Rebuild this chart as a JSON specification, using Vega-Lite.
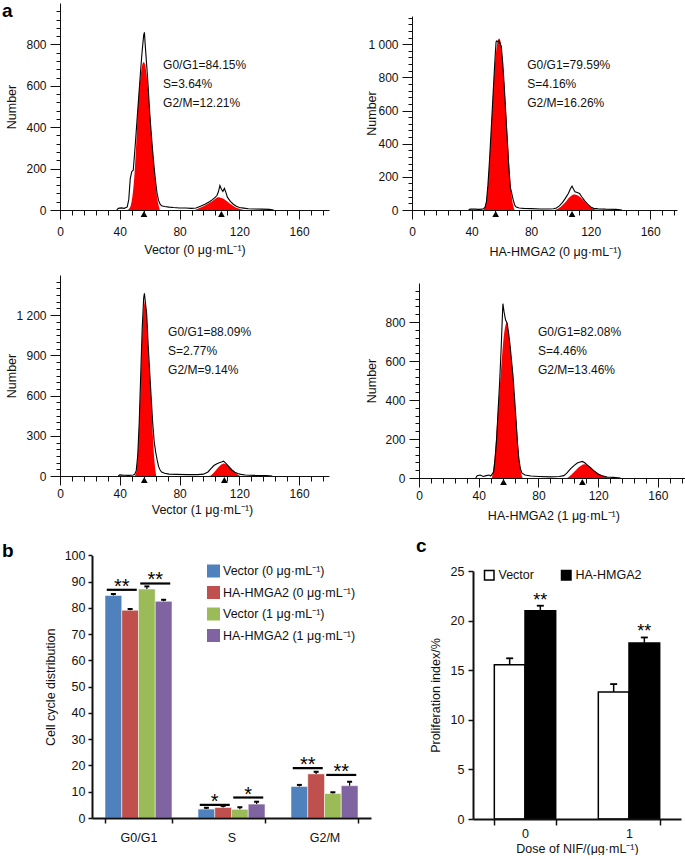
{
"$schema": "https://vega.github.io/schema/vega-lite/v6.json",
"padding": {"left": 2, "top": 1, "right": 0, "bottom": 0},
"background": "white",
"columns": 2,
"spacing": {"row": 65, "column": 41},
"bounds": "flush",
"align": "each",
"resolve": {"scale": {"color": "independent"}, "legend": {"color": "independent"}},
"datasets": {
"hist": [
{"p":"a1","x":38,"y":0},{"p":"a1","x":39,"y":8},{"p":"a1","x":41,"y":10},{"p":"a1","x":43,"y":8},{"p":"a1","x":45,"y":15},{"p":"a1","x":46,"y":50},{"p":"a1","x":47,"y":150},{"p":"a1","x":48,"y":185},{"p":"a1","x":49,"y":192},{"p":"a1","x":50,"y":280},{"p":"a1","x":51,"y":380},{"p":"a1","x":52,"y":480},{"p":"a1","x":53,"y":580},{"p":"a1","x":54,"y":680},{"p":"a1","x":55,"y":770},{"p":"a1","x":56,"y":845},{"p":"a1","x":56.5,"y":858},{"p":"a1","x":57,"y":800},{"p":"a1","x":58,"y":700},{"p":"a1","x":59,"y":595},{"p":"a1","x":60,"y":475},{"p":"a1","x":61,"y":375},{"p":"a1","x":62,"y":285},{"p":"a1","x":63,"y":205},{"p":"a1","x":64,"y":135},{"p":"a1","x":65,"y":78},{"p":"a1","x":66,"y":45},{"p":"a1","x":67,"y":28},{"p":"a1","x":68,"y":20},{"p":"a1","x":70,"y":17},{"p":"a1","x":73,"y":14},{"p":"a1","x":76,"y":12},{"p":"a1","x":80,"y":10},{"p":"a1","x":84,"y":10},{"p":"a1","x":88,"y":8},{"p":"a1","x":91,"y":10},{"p":"a1","x":94,"y":18},{"p":"a1","x":97,"y":28},{"p":"a1","x":100,"y":40},{"p":"a1","x":102,"y":50},{"p":"a1","x":104,"y":62},{"p":"a1","x":105,"y":70},{"p":"a1","x":106,"y":88},{"p":"a1","x":107,"y":118},{"p":"a1","x":108,"y":100},{"p":"a1","x":109,"y":90},{"p":"a1","x":110,"y":104},{"p":"a1","x":111,"y":85},{"p":"a1","x":112,"y":62},{"p":"a1","x":114,"y":42},{"p":"a1","x":116,"y":28},{"p":"a1","x":118,"y":18},{"p":"a1","x":120,"y":12},{"p":"a1","x":123,"y":9},{"p":"a1","x":126,"y":6},{"p":"a1","x":130,"y":5},{"p":"a1","x":135,"y":4},{"p":"a1","x":140,"y":3},{"p":"a1","x":143,"y":0},
{"p":"a2","x":38,"y":0},{"p":"a2","x":39,"y":5},{"p":"a2","x":42,"y":5},{"p":"a2","x":45,"y":4},{"p":"a2","x":47,"y":5},{"p":"a2","x":48,"y":8},{"p":"a2","x":49,"y":15},{"p":"a2","x":50,"y":50},{"p":"a2","x":51,"y":150},{"p":"a2","x":52,"y":290},{"p":"a2","x":53,"y":450},{"p":"a2","x":54,"y":620},{"p":"a2","x":55,"y":790},{"p":"a2","x":56,"y":950},{"p":"a2","x":56.5,"y":1015},{"p":"a2","x":57,"y":1020},{"p":"a2","x":58,"y":1012},{"p":"a2","x":58.5,"y":1020},{"p":"a2","x":59,"y":1010},{"p":"a2","x":60,"y":985},{"p":"a2","x":61,"y":880},{"p":"a2","x":62,"y":740},{"p":"a2","x":63,"y":580},{"p":"a2","x":64,"y":420},{"p":"a2","x":65,"y":260},{"p":"a2","x":66,"y":140},{"p":"a2","x":67,"y":100},{"p":"a2","x":68,"y":60},{"p":"a2","x":69,"y":30},{"p":"a2","x":70,"y":18},{"p":"a2","x":72,"y":12},{"p":"a2","x":75,"y":10},{"p":"a2","x":80,"y":8},{"p":"a2","x":86,"y":6},{"p":"a2","x":92,"y":6},{"p":"a2","x":95,"y":8},{"p":"a2","x":97,"y":12},{"p":"a2","x":99,"y":25},{"p":"a2","x":101,"y":45},{"p":"a2","x":103,"y":70},{"p":"a2","x":105,"y":100},{"p":"a2","x":106.5,"y":130},{"p":"a2","x":107.5,"y":144},{"p":"a2","x":108.5,"y":125},{"p":"a2","x":109.5,"y":110},{"p":"a2","x":111,"y":105},{"p":"a2","x":112.5,"y":100},{"p":"a2","x":114,"y":80},{"p":"a2","x":116,"y":55},{"p":"a2","x":118,"y":35},{"p":"a2","x":120,"y":18},{"p":"a2","x":122,"y":10},{"p":"a2","x":125,"y":7},{"p":"a2","x":130,"y":5},{"p":"a2","x":137,"y":4},{"p":"a2","x":141,"y":0},
{"p":"a3","x":39,"y":0},{"p":"a3","x":40,"y":8},{"p":"a3","x":43,"y":6},{"p":"a3","x":46,"y":5},{"p":"a3","x":49,"y":8},{"p":"a3","x":50,"y":12},{"p":"a3","x":51,"y":40},{"p":"a3","x":52,"y":150},{"p":"a3","x":53,"y":400},{"p":"a3","x":54,"y":750},{"p":"a3","x":55,"y":1100},{"p":"a3","x":56,"y":1330},{"p":"a3","x":56.5,"y":1363},{"p":"a3","x":57,"y":1310},{"p":"a3","x":58,"y":1210},{"p":"a3","x":59,"y":980},{"p":"a3","x":60,"y":780},{"p":"a3","x":61,"y":590},{"p":"a3","x":62,"y":400},{"p":"a3","x":63,"y":260},{"p":"a3","x":64,"y":180},{"p":"a3","x":65,"y":120},{"p":"a3","x":66,"y":70},{"p":"a3","x":67,"y":45},{"p":"a3","x":68,"y":30},{"p":"a3","x":70,"y":20},{"p":"a3","x":73,"y":14},{"p":"a3","x":78,"y":12},{"p":"a3","x":85,"y":10},{"p":"a3","x":92,"y":10},{"p":"a3","x":96,"y":14},{"p":"a3","x":99,"y":30},{"p":"a3","x":101,"y":55},{"p":"a3","x":103,"y":78},{"p":"a3","x":105,"y":92},{"p":"a3","x":107,"y":100},{"p":"a3","x":108.5,"y":106},{"p":"a3","x":109.5,"y":111},{"p":"a3","x":111,"y":95},{"p":"a3","x":113,"y":70},{"p":"a3","x":115,"y":45},{"p":"a3","x":117,"y":28},{"p":"a3","x":119,"y":18},{"p":"a3","x":121,"y":12},{"p":"a3","x":124,"y":8},{"p":"a3","x":130,"y":5},{"p":"a3","x":138,"y":4},{"p":"a3","x":142,"y":0},
{"p":"a4","x":38,"y":0},{"p":"a4","x":39,"y":12},{"p":"a4","x":41,"y":15},{"p":"a4","x":43,"y":8},{"p":"a4","x":45,"y":12},{"p":"a4","x":47,"y":15},{"p":"a4","x":48,"y":10},{"p":"a4","x":49,"y":20},{"p":"a4","x":50,"y":30},{"p":"a4","x":51,"y":100},{"p":"a4","x":52,"y":200},{"p":"a4","x":53,"y":350},{"p":"a4","x":54,"y":490},{"p":"a4","x":55,"y":660},{"p":"a4","x":56,"y":860},{"p":"a4","x":56.2,"y":894},{"p":"a4","x":57,"y":850},{"p":"a4","x":58,"y":810},{"p":"a4","x":59,"y":795},{"p":"a4","x":60,"y":745},{"p":"a4","x":61,"y":680},{"p":"a4","x":62,"y":600},{"p":"a4","x":63,"y":520},{"p":"a4","x":64,"y":410},{"p":"a4","x":65,"y":300},{"p":"a4","x":66,"y":170},{"p":"a4","x":67,"y":90},{"p":"a4","x":68,"y":45},{"p":"a4","x":69,"y":25},{"p":"a4","x":71,"y":15},{"p":"a4","x":75,"y":10},{"p":"a4","x":80,"y":8},{"p":"a4","x":88,"y":6},{"p":"a4","x":94,"y":8},{"p":"a4","x":97,"y":12},{"p":"a4","x":99,"y":25},{"p":"a4","x":101.6,"y":48},{"p":"a4","x":104,"y":65},{"p":"a4","x":106,"y":77},{"p":"a4","x":108,"y":82},{"p":"a4","x":109.4,"y":85},{"p":"a4","x":111,"y":78},{"p":"a4","x":113,"y":65},{"p":"a4","x":115,"y":52},{"p":"a4","x":117,"y":38},{"p":"a4","x":119.6,"y":22},{"p":"a4","x":122,"y":13},{"p":"a4","x":126,"y":5},{"p":"a4","x":130,"y":3},{"p":"a4","x":135,"y":0}
],
"fit": [
{"p":"a1","k":"G1","x":45,"y":0},{"p":"a1","k":"G1","x":47,"y":15},{"p":"a1","k":"G1","x":48,"y":45},{"p":"a1","k":"G1","x":49,"y":100},{"p":"a1","k":"G1","x":50,"y":190},{"p":"a1","k":"G1","x":51,"y":320},{"p":"a1","k":"G1","x":52,"y":470},{"p":"a1","k":"G1","x":53,"y":580},{"p":"a1","k":"G1","x":54,"y":650},{"p":"a1","k":"G1","x":55,"y":700},{"p":"a1","k":"G1","x":56,"y":715},{"p":"a1","k":"G1","x":57,"y":700},{"p":"a1","k":"G1","x":58,"y":650},{"p":"a1","k":"G1","x":59,"y":575},{"p":"a1","k":"G1","x":60,"y":480},{"p":"a1","k":"G1","x":61,"y":380},{"p":"a1","k":"G1","x":62,"y":285},{"p":"a1","k":"G1","x":63,"y":195},{"p":"a1","k":"G1","x":64,"y":120},{"p":"a1","k":"G1","x":65,"y":60},{"p":"a1","k":"G1","x":66,"y":22},{"p":"a1","k":"G1","x":67,"y":0},
{"p":"a1","k":"G2","x":90,"y":0},{"p":"a1","k":"G2","x":93,"y":8},{"p":"a1","k":"G2","x":96,"y":18},{"p":"a1","k":"G2","x":99,"y":30},{"p":"a1","k":"G2","x":102,"y":44},{"p":"a1","k":"G2","x":104,"y":54},{"p":"a1","k":"G2","x":105,"y":59},{"p":"a1","k":"G2","x":106,"y":61},{"p":"a1","k":"G2","x":107,"y":60},{"p":"a1","k":"G2","x":109,"y":55},{"p":"a1","k":"G2","x":111,"y":46},{"p":"a1","k":"G2","x":113,"y":35},{"p":"a1","k":"G2","x":115,"y":24},{"p":"a1","k":"G2","x":117,"y":15},{"p":"a1","k":"G2","x":119,"y":9},{"p":"a1","k":"G2","x":121,"y":4},{"p":"a1","k":"G2","x":123.5,"y":0},
{"p":"a2","k":"G1","x":48,"y":0},{"p":"a2","k":"G1","x":49,"y":20},{"p":"a2","k":"G1","x":50,"y":60},{"p":"a2","k":"G1","x":51,"y":150},{"p":"a2","k":"G1","x":52,"y":290},{"p":"a2","k":"G1","x":53,"y":450},{"p":"a2","k":"G1","x":54,"y":620},{"p":"a2","k":"G1","x":55,"y":780},{"p":"a2","k":"G1","x":56,"y":910},{"p":"a2","k":"G1","x":57,"y":990},{"p":"a2","k":"G1","x":58,"y":1030},{"p":"a2","k":"G1","x":58.5,"y":1034},{"p":"a2","k":"G1","x":59,"y":1030},{"p":"a2","k":"G1","x":60,"y":985},{"p":"a2","k":"G1","x":61,"y":880},{"p":"a2","k":"G1","x":62,"y":760},{"p":"a2","k":"G1","x":63,"y":620},{"p":"a2","k":"G1","x":64,"y":470},{"p":"a2","k":"G1","x":65,"y":320},{"p":"a2","k":"G1","x":66,"y":180},{"p":"a2","k":"G1","x":67,"y":80},{"p":"a2","k":"G1","x":68,"y":25},{"p":"a2","k":"G1","x":69,"y":0},
{"p":"a2","k":"G2","x":95,"y":0},{"p":"a2","k":"G2","x":98,"y":8},{"p":"a2","k":"G2","x":100,"y":20},{"p":"a2","k":"G2","x":102,"y":38},{"p":"a2","k":"G2","x":104,"y":58},{"p":"a2","k":"G2","x":106,"y":78},{"p":"a2","k":"G2","x":108,"y":92},{"p":"a2","k":"G2","x":109,"y":94},{"p":"a2","k":"G2","x":110,"y":92},{"p":"a2","k":"G2","x":112,"y":85},{"p":"a2","k":"G2","x":114,"y":70},{"p":"a2","k":"G2","x":116,"y":50},{"p":"a2","k":"G2","x":118,"y":30},{"p":"a2","k":"G2","x":120,"y":15},{"p":"a2","k":"G2","x":122,"y":6},{"p":"a2","k":"G2","x":124,"y":0},
{"p":"a3","k":"G1","x":50,"y":0},{"p":"a3","k":"G1","x":51,"y":30},{"p":"a3","k":"G1","x":52,"y":150},{"p":"a3","k":"G1","x":53,"y":380},{"p":"a3","k":"G1","x":54,"y":700},{"p":"a3","k":"G1","x":55,"y":1050},{"p":"a3","k":"G1","x":56,"y":1250},{"p":"a3","k":"G1","x":57,"y":1306},{"p":"a3","k":"G1","x":58,"y":1200},{"p":"a3","k":"G1","x":59,"y":950},{"p":"a3","k":"G1","x":60,"y":750},{"p":"a3","k":"G1","x":61,"y":560},{"p":"a3","k":"G1","x":62,"y":330},{"p":"a3","k":"G1","x":63,"y":140},{"p":"a3","k":"G1","x":64,"y":30},{"p":"a3","k":"G1","x":64.5,"y":0},
{"p":"a3","k":"G2","x":100,"y":0},{"p":"a3","k":"G2","x":102,"y":15},{"p":"a3","k":"G2","x":104,"y":40},{"p":"a3","k":"G2","x":106,"y":65},{"p":"a3","k":"G2","x":108,"y":85},{"p":"a3","k":"G2","x":109.5,"y":94},{"p":"a3","k":"G2","x":111,"y":88},{"p":"a3","k":"G2","x":113,"y":72},{"p":"a3","k":"G2","x":115,"y":50},{"p":"a3","k":"G2","x":117,"y":30},{"p":"a3","k":"G2","x":119,"y":12},{"p":"a3","k":"G2","x":120.5,"y":0},
{"p":"a4","k":"G1","x":48.8,"y":0},{"p":"a4","k":"G1","x":50,"y":60},{"p":"a4","k":"G1","x":51,"y":140},{"p":"a4","k":"G1","x":52,"y":250},{"p":"a4","k":"G1","x":53.7,"y":424},{"p":"a4","k":"G1","x":55,"y":560},{"p":"a4","k":"G1","x":56.2,"y":680},{"p":"a4","k":"G1","x":57,"y":740},{"p":"a4","k":"G1","x":58,"y":785},{"p":"a4","k":"G1","x":58.9,"y":797},{"p":"a4","k":"G1","x":60,"y":740},{"p":"a4","k":"G1","x":61,"y":675},{"p":"a4","k":"G1","x":62.2,"y":590},{"p":"a4","k":"G1","x":63,"y":510},{"p":"a4","k":"G1","x":64,"y":400},{"p":"a4","k":"G1","x":65,"y":300},{"p":"a4","k":"G1","x":65.6,"y":250},{"p":"a4","k":"G1","x":66.5,"y":160},{"p":"a4","k":"G1","x":67.5,"y":70},{"p":"a4","k":"G1","x":68.3,"y":30},{"p":"a4","k":"G1","x":69.7,"y":0},
{"p":"a4","k":"G2","x":99,"y":0},{"p":"a4","k":"G2","x":101,"y":10},{"p":"a4","k":"G2","x":103,"y":25},{"p":"a4","k":"G2","x":105,"y":40},{"p":"a4","k":"G2","x":107,"y":55},{"p":"a4","k":"G2","x":109,"y":66},{"p":"a4","k":"G2","x":110.6,"y":70},{"p":"a4","k":"G2","x":112,"y":68},{"p":"a4","k":"G2","x":114,"y":60},{"p":"a4","k":"G2","x":116,"y":48},{"p":"a4","k":"G2","x":118,"y":35},{"p":"a4","k":"G2","x":120,"y":25},{"p":"a4","k":"G2","x":122,"y":16},{"p":"a4","k":"G2","x":124,"y":9},{"p":"a4","k":"G2","x":126,"y":4},{"p":"a4","k":"G2","x":128.5,"y":0}
],
"tri": [
{"p":"a1","x":56.2},{"p":"a1","x":108},
{"p":"a2","x":56.2},{"p":"a2","x":107.5},
{"p":"a3","x":56.4},{"p":"a3","x":110},
{"p":"a4","x":56.6},{"p":"a4","x":109.4}
],
"ann": [
{"p":"a1","t":"G0/G1=84.15%\nS=3.64%\nG2/M=12.21%"},
{"p":"a2","t":"G0/G1=79.59%\nS=4.16%\nG2/M=16.26%"},
{"p":"a3","t":"G0/G1=88.09%\nS=2.77%\nG2/M=9.14%"},
{"p":"a4","t":"G0/G1=82.08%\nS=4.46%\nG2/M=13.46%"}
],
"cycle": [
{"phase":"G0/G1","grp":"Vector (0 μg·mL⁻¹)","v":84.7,"hi":85.3},
{"phase":"G0/G1","grp":"HA-HMGA2 (0 μg·mL⁻¹)","v":79.1,"hi":79.6},
{"phase":"G0/G1","grp":"Vector (1 μg·mL⁻¹)","v":87.2,"hi":88.2},
{"phase":"G0/G1","grp":"HA-HMGA2 (1 μg·mL⁻¹)","v":82.5,"hi":83.1},
{"phase":"S","grp":"Vector (0 μg·mL⁻¹)","v":3.4,"hi":3.9},
{"phase":"S","grp":"HA-HMGA2 (0 μg·mL⁻¹)","v":4.0,"hi":4.6},
{"phase":"S","grp":"Vector (1 μg·mL⁻¹)","v":3.3,"hi":4.1},
{"phase":"S","grp":"HA-HMGA2 (1 μg·mL⁻¹)","v":5.3,"hi":6.2},
{"phase":"G2/M","grp":"Vector (0 μg·mL⁻¹)","v":12.0,"hi":12.6},
{"phase":"G2/M","grp":"HA-HMGA2 (0 μg·mL⁻¹)","v":16.8,"hi":17.6},
{"phase":"G2/M","grp":"Vector (1 μg·mL⁻¹)","v":9.3,"hi":9.8},
{"phase":"G2/M","grp":"HA-HMGA2 (1 μg·mL⁻¹)","v":12.3,"hi":13.8}
],
"sig": [
{"phase":"G0/G1","pair":"p1","y":86.9,"stars":"**"},
{"phase":"G0/G1","pair":"p2","y":89.3,"stars":"**"},
{"phase":"S","pair":"p1","y":5.0,"stars":"*"},
{"phase":"S","pair":"p2","y":7.8,"stars":"*"},
{"phase":"G2/M","pair":"p1","y":19.0,"stars":"**"},
{"phase":"G2/M","pair":"p2","y":16.4,"stars":"**"}
],
"prolif": [
{"dose":"0","grp":"Vector","v":15.55,"hi":16.2,"sig":""},
{"dose":"0","grp":"HA-HMGA2","v":21.0,"hi":21.5,"sig":"**"},
{"dose":"1","grp":"Vector","v":12.8,"hi":13.6,"sig":""},
{"dose":"1","grp":"HA-HMGA2","v":17.75,"hi":18.3,"sig":"**"}
]
},
"concat": [
{
"width": 269, "height": 207,
"title": {"text": "a", "anchor": "start", "frame": "group", "orient": "top", "fontSize": 19, "fontWeight": "bold", "font": "Liberation Sans", "color": "black", "offset": 0, "dx": -58, "dy": 32.5, "baseline": "alphabetic"},
"resolve": {"axis": {"x": "independent", "y": "independent"}},
"layer": [
{"data": {"name": "fit"}, "transform": [{"filter": "datum.p == 'a1'"}],
 "mark": {"type": "area", "color": "#ff0000", "interpolate": "monotone"},
 "encoding": {
  "x": {"field": "x", "type": "quantitative", "scale": {"domain": [0, 180], "nice": false},
   "axis": {"orient": "bottom", "values": [0,40,80,120,160], "tickSize": 9, "labelPadding": 7, "labelFlush": false, "title": "Vector (0 μg·mL⁻¹)", "titlePadding": 6, "zindex": 1}},
  "y": {"field": "y", "type": "quantitative", "scale": {"domain": [0, 1000], "nice": false},
   "axis": {"orient": "left", "values": [0,200,400,600,800], "labelExpr": "replace(format(datum.value, ','), ',', ' ')", "tickSize": 10, "labelPadding": 4, "labelFlush": false, "title": "Number", "titleX": -45, "titleBaseline": "alphabetic", "zindex": 1}},
  "detail": {"field": "k", "type": "nominal"}}},
{"data": {"name": "hist"}, "transform": [{"filter": "datum.p == 'a1'"}], "mark": {"type": "line", "color": "black", "strokeWidth": 1.1},
 "encoding": {
  "x": {"field": "x", "type": "quantitative", "axis": {"orient": "bottom", "values": [0,8,16,24,32,40,48,56,64,72,80,88,96,104,112,120,128,136,144,152,160,168,176], "tickSize": 5, "labels": false, "domain": false, "title": null, "zindex": 1}},
  "y": {"field": "y", "type": "quantitative", "axis": {"orient": "left", "values": [0,40,80,120,160,200,240,280,320,360,400,440,480,520,560,600,640,680,720,760,800,840,880,920,960], "tickSize": 4, "labels": false, "domain": false, "title": null, "zindex": 1}}}},
{"data": {"name": "tri"}, "transform": [{"filter": "datum.p == 'a1'"}], "mark": {"type": "point", "shape": "triangle-up", "filled": true, "color": "black", "opacity": 1, "size": 45, "yOffset": 4}, "encoding": {"x": {"field": "x", "type": "quantitative", "axis": null}, "y": {"datum": 0, "axis": null}}},
{"data": {"name": "ann"}, "transform": [{"filter": "datum.p == 'a1'"}], "mark": {"type": "text", "align": "left", "baseline": "top", "lineBreak": "\n", "lineHeight": 19, "fontSize": 12, "color": "#111"}, "encoding": {"x": {"datum": 69, "axis": null}, "y": {"datum": 723, "axis": null}, "text": {"field": "t"}}}
]
},
{
"width": 265, "height": 207,
"resolve": {"axis": {"x": "independent", "y": "independent"}},
"layer": [
{"data": {"name": "fit"}, "transform": [{"filter": "datum.p == 'a2'"}],
 "mark": {"type": "area", "color": "#ff0000", "interpolate": "monotone"},
 "encoding": {
  "x": {"field": "x", "type": "quantitative", "scale": {"domain": [0, 178], "nice": false},
   "axis": {"orient": "bottom", "values": [0,40,80,120,160], "tickSize": 9, "labelPadding": 7, "labelFlush": false, "title": "HA-HMGA2 (0 μg·mL⁻¹)", "titlePadding": 8, "titleX": 143, "zindex": 1}},
  "y": {"field": "y", "type": "quantitative", "scale": {"domain": [0, 1170], "nice": false, "range": [207, 13]},
   "axis": {"orient": "left", "values": [0,200,400,600,800,1000], "labelExpr": "replace(format(datum.value, ','), ',', ' ')", "tickSize": 10, "labelPadding": 4, "labelFlush": false, "title": "Number", "titleX": -37, "titleBaseline": "alphabetic", "zindex": 1}},
  "detail": {"field": "k", "type": "nominal"}}},
{"data": {"name": "hist"}, "transform": [{"filter": "datum.p == 'a2'"}], "mark": {"type": "line", "color": "black", "strokeWidth": 1.1},
 "encoding": {
  "x": {"field": "x", "type": "quantitative", "axis": {"orient": "bottom", "values": [0,8,16,24,32,40,48,56,64,72,80,88,96,104,112,120,128,136,144,152,160,168,176], "tickSize": 5, "labels": false, "domain": false, "title": null, "zindex": 1}},
  "y": {"field": "y", "type": "quantitative", "axis": {"orient": "left", "values": [0,40,80,120,160,200,240,280,320,360,400,440,480,520,560,600,640,680,720,760,800,840,880,920,960,1000,1040,1080,1120,1160], "tickSize": 4, "labels": false, "domain": false, "title": null, "zindex": 1}}}},
{"data": {"name": "tri"}, "transform": [{"filter": "datum.p == 'a2'"}], "mark": {"type": "point", "shape": "triangle-up", "filled": true, "color": "black", "opacity": 1, "size": 45, "yOffset": 4}, "encoding": {"x": {"field": "x", "type": "quantitative", "axis": null}, "y": {"datum": 0, "axis": null}}},
{"data": {"name": "ann"}, "transform": [{"filter": "datum.p == 'a2'"}], "mark": {"type": "text", "align": "left", "baseline": "top", "lineBreak": "\n", "lineHeight": 19, "fontSize": 12, "color": "#111"}, "encoding": {"x": {"datum": 77.4, "axis": null}, "y": {"datum": 902, "axis": null}, "text": {"field": "t"}}}
]
},
{
"width": 269, "height": 201,
"resolve": {"axis": {"x": "independent", "y": "independent"}},
"layer": [
{"data": {"name": "fit"}, "transform": [{"filter": "datum.p == 'a3'"}],
 "mark": {"type": "area", "color": "#ff0000", "interpolate": "monotone"},
 "encoding": {
  "x": {"field": "x", "type": "quantitative", "scale": {"domain": [0, 180], "nice": false},
   "axis": {"orient": "bottom", "values": [0,40,80,120,160], "tickSize": 9, "labelPadding": 3, "labelFlush": false, "title": "Vector (1 μg·mL⁻¹)", "titlePadding": 4, "titleX": 142, "zindex": 1}},
  "y": {"field": "y", "type": "quantitative", "scale": {"domain": [0, 1500], "nice": false},
   "axis": {"orient": "left", "values": [0,300,600,900,1200], "labelExpr": "replace(format(datum.value, ','), ',', ' ')", "tickSize": 10, "labelPadding": 4, "labelFlush": false, "title": "Number", "titleX": -45, "titleBaseline": "alphabetic", "zindex": 1}},
  "detail": {"field": "k", "type": "nominal"}}},
{"data": {"name": "hist"}, "transform": [{"filter": "datum.p == 'a3'"}], "mark": {"type": "line", "color": "black", "strokeWidth": 1.1},
 "encoding": {
  "x": {"field": "x", "type": "quantitative", "axis": {"orient": "bottom", "values": [0,8,16,24,32,40,48,56,64,72,80,88,96,104,112,120,128,136,144,152,160,168,176], "tickSize": 5, "labels": false, "domain": false, "title": null, "zindex": 1}},
  "y": {"field": "y", "type": "quantitative", "axis": {"orient": "left", "values": [0,50,100,150,200,250,300,350,400,450,500,550,600,650,700,750,800,850,900,950,1000,1050,1100,1150,1200,1250,1300,1350,1400,1450], "tickSize": 4, "labels": false, "domain": false, "title": null, "zindex": 1}}}},
{"data": {"name": "tri"}, "transform": [{"filter": "datum.p == 'a3'"}], "mark": {"type": "point", "shape": "triangle-up", "filled": true, "color": "black", "opacity": 1, "size": 45, "yOffset": 4}, "encoding": {"x": {"field": "x", "type": "quantitative", "axis": null}, "y": {"datum": 0, "axis": null}}},
{"data": {"name": "ann"}, "transform": [{"filter": "datum.p == 'a3'"}], "mark": {"type": "text", "align": "left", "baseline": "top", "lineBreak": "\n", "lineHeight": 19, "fontSize": 12, "color": "#111"}, "encoding": {"x": {"datum": 72.3, "axis": null}, "y": {"datum": 1110, "axis": null}, "text": {"field": "t"}}}
]
},
{
"width": 276, "height": 203,
"resolve": {"axis": {"x": "independent", "y": "independent"}},
"layer": [
{"data": {"name": "fit"}, "transform": [{"filter": "datum.p == 'a4'"}],
 "mark": {"type": "area", "color": "#ff0000", "interpolate": "monotone"},
 "encoding": {
  "x": {"field": "x", "type": "quantitative", "scale": {"domain": [0, 180], "nice": false, "range": [7, 275.75]},
   "axis": {"orient": "bottom", "values": [0,40,80,120,160], "tickSize": 9, "labelPadding": 3, "labelFlush": false, "title": "HA-HMGA2 (1 μg·mL⁻¹)", "titlePadding": 8, "zindex": 1}},
  "y": {"field": "y", "type": "quantitative", "scale": {"domain": [0, 1000], "nice": false, "range": [203, 8]},
   "axis": {"orient": "left", "values": [0,200,400,600,800], "labelExpr": "replace(format(datum.value, ','), ',', ' ')", "tickSize": 10, "labelPadding": 4, "labelFlush": false, "offset": -7, "title": "Number", "titleX": -44, "titleBaseline": "alphabetic", "zindex": 1}},
  "detail": {"field": "k", "type": "nominal"}}},
{"data": {"name": "hist"}, "transform": [{"filter": "datum.p == 'a4'"}], "mark": {"type": "line", "color": "black", "strokeWidth": 1.1},
 "encoding": {
  "x": {"field": "x", "type": "quantitative", "axis": {"orient": "bottom", "values": [0,8,16,24,32,40,48,56,64,72,80,88,96,104,112,120,128,136,144,152,160,168,176], "tickSize": 5, "labels": false, "domain": false, "title": null, "zindex": 1}},
  "y": {"field": "y", "type": "quantitative", "axis": {"orient": "left", "values": [0,40,80,120,160,200,240,280,320,360,400,440,480,520,560,600,640,680,720,760,800,840,880,920,960], "tickSize": 4, "labels": false, "domain": false, "offset": -7, "title": null, "zindex": 1}}}},
{"data": {"name": "tri"}, "transform": [{"filter": "datum.p == 'a4'"}], "mark": {"type": "point", "shape": "triangle-up", "filled": true, "color": "black", "opacity": 1, "size": 45, "yOffset": 4}, "encoding": {"x": {"field": "x", "type": "quantitative", "axis": null}, "y": {"datum": 0, "axis": null}}},
{"data": {"name": "ann"}, "transform": [{"filter": "datum.p == 'a4'"}], "mark": {"type": "text", "align": "left", "baseline": "top", "lineBreak": "\n", "lineHeight": 19, "fontSize": 12, "color": "#111"}, "encoding": {"x": {"datum": 79.7, "axis": null}, "y": {"datum": 776, "axis": null}, "text": {"field": "t"}}}
]
},
{
"width": 311, "height": 275,
"title": {"text": "b", "anchor": "start", "frame": "group", "orient": "top", "fontSize": 19, "fontWeight": "bold", "font": "Liberation Sans", "color": "black", "offset": 0, "dx": -58, "dy": 32.5, "baseline": "alphabetic"},
"data": {"name": "cycle"},
"encoding": {
 "x": {"field": "phase", "type": "nominal", "sort": ["G0/G1", "S", "G2/M"], "scale": {"type": "band", "range": [32, 311], "paddingInner": 0.28, "paddingOuter": 0.14},
  "axis": {"title": null, "tickBand": "extent", "tickSize": 5, "tickWidth": 1.5, "domainWidth": 2, "labelPadding": 8, "labelAngle": 0, "labelFontSize": 12.5, "zindex": 1}}
},
"layer": [
{"mark": {"type": "bar", "stroke": "white", "strokeWidth": 0.5},
 "encoding": {
  "xOffset": {"field": "grp", "type": "nominal", "sort": ["Vector (0 μg·mL⁻¹)", "HA-HMGA2 (0 μg·mL⁻¹)", "Vector (1 μg·mL⁻¹)", "HA-HMGA2 (1 μg·mL⁻¹)"]},
  "y": {"field": "v", "type": "quantitative", "scale": {"domain": [0, 100], "nice": false, "range": [275, 12.4]},
   "axis": {"values": [0,10,20,30,40,50,60,70,80,90,100], "labelOverlap": false, "tickSize": 4, "tickWidth": 1.5, "domainWidth": 2, "labelPadding": 3, "labelFontSize": 12.5, "offset": -32, "title": "Cell cycle distribution", "titleX": -38, "titleBaseline": "alphabetic", "zindex": 1}},
  "color": {"field": "grp", "type": "nominal", "scale": {"domain": ["Vector (0 μg·mL⁻¹)", "HA-HMGA2 (0 μg·mL⁻¹)", "Vector (1 μg·mL⁻¹)", "HA-HMGA2 (1 μg·mL⁻¹)"], "range": ["#4F81BD", "#C0504D", "#9BBB59", "#8064A2"]},
   "legend": {"orient": "none", "legendX": 147, "legendY": 21.5, "title": null, "symbolType": "square", "symbolSize": 169, "symbolStrokeWidth": 0, "labelFontSize": 12.5, "rowPadding": 8.5, "labelOffset": 3}}}},
{"mark": {"type": "rule", "color": "black", "strokeWidth": 1.2},
 "encoding": {"xOffset": {"field": "grp", "type": "nominal", "sort": ["Vector (0 μg·mL⁻¹)", "HA-HMGA2 (0 μg·mL⁻¹)", "Vector (1 μg·mL⁻¹)", "HA-HMGA2 (1 μg·mL⁻¹)"]}, "y": {"field": "v", "type": "quantitative", "axis": null}, "y2": {"field": "hi"}}},
{"mark": {"type": "tick", "color": "black", "thickness": 2, "size": 5, "opacity": 1},
 "encoding": {"xOffset": {"field": "grp", "type": "nominal", "sort": ["Vector (0 μg·mL⁻¹)", "HA-HMGA2 (0 μg·mL⁻¹)", "Vector (1 μg·mL⁻¹)", "HA-HMGA2 (1 μg·mL⁻¹)"]}, "y": {"field": "hi", "type": "quantitative", "axis": null}}},
{"data": {"name": "sig"}, "mark": {"type": "tick", "color": "black", "thickness": 2.2, "size": 30, "opacity": 1},
 "encoding": {"xOffset": {"field": "pair", "type": "nominal"}, "y": {"field": "y", "type": "quantitative", "axis": null}}},
{"data": {"name": "sig"}, "mark": {"type": "text", "fontSize": 20, "baseline": "alphabetic", "dy": 3, "color": "black"},
 "encoding": {"xOffset": {"field": "pair", "type": "nominal"}, "y": {"field": "y", "type": "quantitative", "axis": null}, "text": {"field": "stars"}}}
],
"resolve": {"scale": {"xOffset": "independent"}, "axis": {"y": "independent"}}
},
{
"width": 269, "height": 276,
"title": {"text": "c", "anchor": "start", "frame": "group", "orient": "top", "fontSize": 19, "fontWeight": "bold", "font": "Liberation Sans", "color": "black", "offset": 0, "dx": 4, "dy": 27.5, "baseline": "alphabetic"},
"data": {"name": "prolif"},
"encoding": {
 "x": {"field": "dose", "type": "nominal", "scale": {"type": "band", "range": [61, 269], "paddingInner": 0.41, "paddingOuter": 0.205},
  "axis": {"title": "Dose of NIF/(μg·mL⁻¹)", "titlePadding": 3, "tickBand": "extent", "tickSize": 6, "tickWidth": 1.5, "domainWidth": 2, "labelPadding": 2, "labelAngle": 0, "labelFontSize": 12.5, "zindex": 1}}
},
"layer": [
{"mark": {"type": "bar", "stroke": "black", "strokeWidth": 1.5},
 "encoding": {
  "xOffset": {"field": "grp", "type": "nominal", "sort": ["Vector", "HA-HMGA2"]},
  "y": {"field": "v", "type": "quantitative", "scale": {"domain": [0, 25], "nice": false, "range": [276, 28]},
   "axis": {"values": [0,5,10,15,20,25], "labelOverlap": false, "tickSize": 5, "tickWidth": 1.5, "domainWidth": 2, "labelPadding": 4, "labelFontSize": 12.5, "offset": -61, "title": "Proliferation index/%", "titleX": -34, "titleBaseline": "alphabetic", "zindex": 1}},
  "color": {"field": "grp", "type": "nominal", "scale": {"domain": ["Vector", "HA-HMGA2"], "range": ["white", "black"]},
   "legend": {"orient": "none", "direction": "horizontal", "legendX": 71, "legendY": 26, "title": null, "symbolType": "square", "symbolSize": 90, "symbolStrokeColor": "black", "symbolStrokeWidth": 1.5, "labelFontSize": 12.5, "columnPadding": 24, "labelOffset": 3}}}},
{"mark": {"type": "rule", "color": "black", "strokeWidth": 1.5},
 "encoding": {"xOffset": {"field": "grp", "type": "nominal", "sort": ["Vector", "HA-HMGA2"]}, "y": {"field": "v", "type": "quantitative", "axis": null}, "y2": {"field": "hi"}}},
{"mark": {"type": "tick", "color": "black", "thickness": 1.8, "size": 7, "opacity": 1},
 "encoding": {"xOffset": {"field": "grp", "type": "nominal", "sort": ["Vector", "HA-HMGA2"]}, "y": {"field": "hi", "type": "quantitative", "axis": null}}},
{"mark": {"type": "text", "fontSize": 18, "baseline": "alphabetic", "dy": 0, "color": "black"},
 "encoding": {"xOffset": {"field": "grp", "type": "nominal", "sort": ["Vector", "HA-HMGA2"]}, "y": {"field": "hi", "type": "quantitative", "axis": null}, "text": {"field": "sig"}}}
],
"resolve": {"axis": {"y": "independent"}}
}
],
"config": {
 "view": {"stroke": null},
 "font": "Liberation Sans",
 "axis": {"grid": false, "labelFont": "Liberation Sans", "titleFont": "Liberation Sans", "labelFontSize": 12, "titleFontSize": 12.5, "titleFontWeight": "normal", "labelColor": "#111", "titleColor": "#111", "domainColor": "#111", "tickColor": "#111"},
 "legend": {"labelFont": "Liberation Sans", "labelFontSize": 12.5, "labelColor": "#111"},
 "text": {"font": "Liberation Sans"}
}
}
